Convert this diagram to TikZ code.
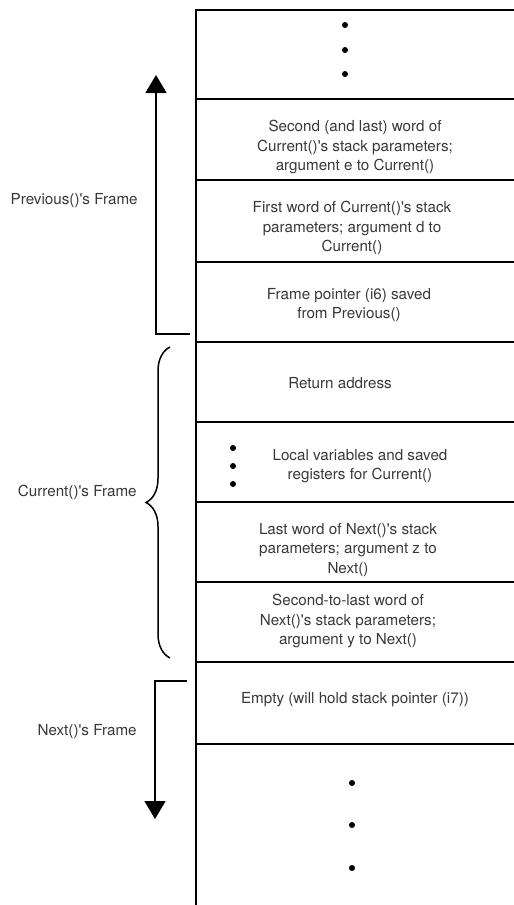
\documentclass[tikz,border=0pt]{standalone}
\usepackage{fontspec}
\setmainfont{TeX Gyre Heros}
\usetikzlibrary{arrows.meta,decorations.pathreplacing}

\begin{document}
\begin{tikzpicture}[
  x=0.5pt, y=-0.5pt,
  font=\fontsize{7.6}{9.7}\selectfont,
  cell/.style={align=center, text=black!78, inner sep=0pt},
  lbl/.style={anchor=east, text=black!78, inner sep=0pt},
  wall/.style={line width=1pt},
  span/.style={line width=0.75pt},
  arrow/.style={span, -{Triangle[length=9pt,width=10.5pt]}},
  dot/.style={circle, fill=black, inner sep=0pt, minimum size=3pt}
]
\useasboundingbox (0,0) rectangle (514,905);

% Stack outline
\draw[wall] (514,10) -- (196,10) -- (196,905);
\foreach \y in {99,180,262,342,422,502,582,662,744}
  \draw[wall] (196,\y) -- (514,\y);

% Dots above and below
\foreach \y/\n in {25/1,50/2,74/3}
  \node[dot] (topdot\n) at (345,\y) {};
\foreach \y/\n in {783/1,825/2,868/3}
  \node[dot] (botdot\n) at (352,\y) {};
\foreach \y/\n in {448/1,466/2,484/3}
  \node[dot] (locdot\n) at (233,\y) {};

% Cell contents
\node[cell] (argE) at (355,147)
  {Second (and last) word of\\Current()\textquotesingle s stack parameters;\\argument e to Current()};
\node[cell] (argD) at (352,228)
  {First word of Current()\textquotesingle s stack\\parameters; argument d to\\Current()};
\node[cell] (fp) at (349,305)
  {Frame pointer (i6) saved\\from Previous()};
\node[cell] (ret) at (340,383) {Return address};
\node[cell] (local) at (360,466)
  {Local variables and saved\\registers for Current()};
\node[cell] (argZ) at (348,550)
  {Last word of Next()\textquotesingle s stack\\parameters; argument z to\\Next()};
\node[cell] (argY) at (348,621)
  {Second-to-last word of\\Next()\textquotesingle s stack parameters;\\argument y to Next()};
\node[cell] (empty) at (355,700) {Empty (will hold stack pointer (i7))};

% Frame labels
\node[lbl] (prevlbl) at (138,201) {Previous()\textquotesingle s Frame};
\node[lbl] (curlbl) at (137,492) {Current()\textquotesingle s Frame};
\node[lbl] (nextlbl) at (137,732) {Next()\textquotesingle s Frame};

% Previous() frame: arrow up
\coordinate (prevfoot) at (190,334);
\coordinate (prevtip) at (156,75);
\draw[arrow] (prevfoot) -- (prevtip |- prevfoot) -- (prevtip);

% Current() frame: brace
\coordinate (curlow) at (170,658);
\coordinate (curhigh) at (170,347);
\draw[span, decorate, decoration={brace, amplitude=12pt}] (curlow) -- (curhigh);

% Next() frame: arrow down
\coordinate (nexthead) at (187,681);
\coordinate (nexttip) at (155,819);
\draw[arrow] (nexthead) -- (nexttip |- nexthead) -- (nexttip);
\end{tikzpicture}
\end{document}
